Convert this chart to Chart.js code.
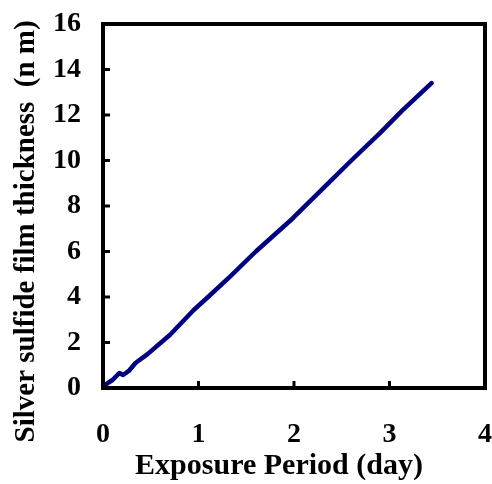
<!DOCTYPE html>
<html>
<head>
<meta charset="utf-8">
<script src="https://cdn.jsdelivr.net/npm/chart.js@4.4.0/dist/chart.umd.min.js"></script>
<style>
  html, body { margin: 0; padding: 0; background: #fff; }
  #wrap { width: 492px; height: 484px; position: relative; }
</style>
</head>
<body>
<div id="wrap"><canvas id="c" width="492" height="484"></canvas></div>
<script>
// Data
const exposureDays = [0, 0.05, 0.10, 0.17, 0.21, 0.27, 0.34, 0.47, 0.58, 0.70, 0.83, 0.95, 1.10, 1.33, 1.60, 1.98, 2.32, 2.60, 2.90, 3.13, 3.30, 3.44];
const filmThickness = [0.05, 0.22, 0.35, 0.66, 0.57, 0.75, 1.10, 1.50, 1.90, 2.33, 2.90, 3.43, 4.00, 4.90, 6.00, 7.43, 8.84, 10.00, 11.20, 12.18, 12.85, 13.40];
const xTicks = [0, 1, 2, 3, 4];
const yTicks = [0, 2, 4, 6, 8, 10, 12, 14, 16];
const xTitle = 'Exposure Period (day)';
const yTitle = 'Silver sulfide film thickness  (n m)';

const points = exposureDays.map((d, i) => ({ x: d, y: filmThickness[i] }));
const FONT = "'Liberation Serif', 'Times New Roman', serif";

const frameAndTicks = {
  id: 'frameAndTicks',
  afterDatasetsDraw(chart) {
    const { ctx, chartArea: a, scales } = chart;
    ctx.save();
    ctx.strokeStyle = '#000';
    ctx.lineWidth = 4;
    ctx.lineCap = 'square';
    ctx.strokeRect(a.left, a.top, a.right - a.left, a.bottom - a.top);
    ctx.lineWidth = 3;
    ctx.lineCap = 'butt';
    const tl = 7;
    scales.x.ticks.forEach(t => {
      if (t.value <= xTicks[0] || t.value >= xTicks[xTicks.length - 1]) return;
      const px = scales.x.getPixelForValue(t.value);
      ctx.beginPath(); ctx.moveTo(px, a.bottom); ctx.lineTo(px, a.bottom - tl); ctx.stroke();
    });
    scales.y.ticks.forEach(t => {
      if (t.value <= yTicks[0] || t.value >= yTicks[yTicks.length - 1]) return;
      const py = scales.y.getPixelForValue(t.value);
      ctx.beginPath(); ctx.moveTo(a.left, py); ctx.lineTo(a.left + tl, py); ctx.stroke();
    });
    ctx.restore();
  }
};

new Chart(document.getElementById('c'), {
  type: 'line',
  data: {
    datasets: [{
      data: points,
      borderColor: '#000080',
      borderWidth: 4.5,
      pointRadius: 0,
      tension: 0,
      borderJoinStyle: 'round',
      borderCapStyle: 'round',
      fill: false
    }]
  },
  options: {
    responsive: false,
    animation: false,
    layout: { padding: { top: 24, right: 7, left: 0, bottom: 0 } },
    plugins: { legend: { display: false }, tooltip: { enabled: false } },
    scales: {
      x: {
        type: 'linear',
        min: xTicks[0], max: xTicks[xTicks.length - 1],
        afterBuildTicks(s) { s.ticks = xTicks.map(v => ({ value: v })); },
        afterFit(s) { s.height = 96; s.paddingLeft = 0; s.paddingRight = 0; },
        grid: { display: false, drawTicks: false },
        border: { display: false },
        ticks: { color: '#000', padding: 30, maxRotation: 0, font: { family: FONT, size: 28, weight: 'bold' } },
        title: { display: true, text: xTitle + '    ', color: '#000', padding: { top: 0, bottom: 0 }, font: { family: FONT, size: 30, weight: 'bold' } }
      },
      y: {
        type: 'linear',
        min: yTicks[0], max: yTicks[yTicks.length - 1],
        afterBuildTicks(s) { s.ticks = yTicks.map(v => ({ value: v })); },
        afterFit(s) { s.width = 103; s.paddingTop = 0; s.paddingBottom = 0; },
        grid: { display: false, drawTicks: false },
        border: { display: false },
        ticks: { color: '#000', padding: 22, font: { family: FONT, size: 28, weight: 'bold' } },
        title: { display: true, text: yTitle + '       ', color: '#000', padding: { top: 9, bottom: 0 }, font: { family: FONT, size: 29, weight: 'bold' } }
      }
    }
  },
  plugins: [frameAndTicks]
});
</script>
</body>
</html>
